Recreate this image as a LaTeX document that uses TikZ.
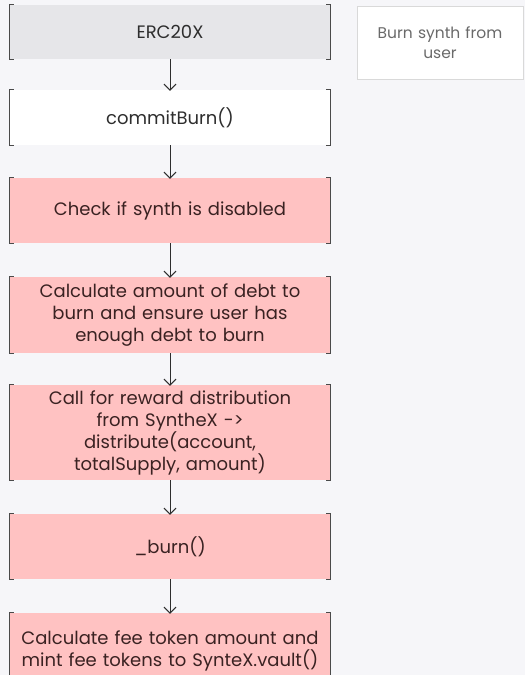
\documentclass[tikz,border=0pt]{standalone}
\usepackage{fontspec}
\setmainfont{Poppins}
\usetikzlibrary{arrows.meta}
\definecolor{bg}{HTML}{F6F6F9}
\definecolor{greyfill}{HTML}{E6E6E9}
\definecolor{pinkfill}{HTML}{FFC2C2}
\definecolor{edge}{HTML}{4A4A4A}
\definecolor{inkdark}{HTML}{2E2E2E}
\definecolor{inkred}{HTML}{3A2222}
\definecolor{notegrey}{HTML}{6A6A6A}
\begin{document}
\begin{tikzpicture}[x=1pt,y=-1pt,
  stepbox/.style={minimum width=320pt, text width=316pt, align=center,
    inner sep=0pt, font=\fontsize{18}{22}\selectfont},
  greybox/.style={stepbox, fill=greyfill, text=inkdark},
  whitebox/.style={stepbox, fill=white, text=inkdark},
  pinkbox/.style={stepbox, fill=pinkfill, text=inkred},
  bracket/.style={draw=edge, line width=1.2pt},
  flow/.style={draw=inkdark, line width=1pt, -{Straight Barb[length=6pt,width=12pt]}},
  notebox/.style={draw=black!15, fill=white, line width=0.8pt, minimum width=166pt,
    minimum height=73pt, text width=160pt, align=center, inner sep=0pt,
    text=notegrey, font=\fontsize{15.5}{20}\selectfont}
]
\useasboundingbox (0,0) rectangle (525,675);
\clip (0,0) rectangle (525,675);
\fill[bg] (0,0) rectangle (525,675);

% flow steps
\node[greybox,  minimum height=54pt] (erc)  at (170,32)    {ERC20X};
\node[whitebox, minimum height=55pt] (cb)   at (170,117.5) {commitBurn()};
\node[pinkbox,  minimum height=65pt] (chk)  at (170,210.5) {Check if synth is disabled};
\node[pinkbox,  minimum height=76pt] (debt) at (170,315)   {Calculate amount of debt to\\burn and ensure user has\\enough debt to burn};
\node[pinkbox,  minimum height=95pt] (rew)  at (170,432.5) {Call for reward distribution\\from SyntheX ->\\distribute(account,\\totalSupply, amount)};
\node[pinkbox,  minimum height=65pt] (brn)  at (170,546.5) {\_burn()};
\node[pinkbox,  minimum height=76pt] (fee)  at (170,651)   {Calculate fee token amount and\\mint fee tokens to SynteX.vault()};

% side note
\node[notebox] (note) at (440,42.5) {Burn synth from\\user};

% bracket edges on the left and right of every step
\foreach \b in {erc,cb,chk,debt,rew,brn,fee}{
  \draw[bracket] ([xshift=4pt]\b.north west) -- (\b.north west) -- (\b.south west) -- ([xshift=4pt]\b.south west);
  \draw[bracket] ([xshift=-4pt]\b.north east) -- (\b.north east) -- (\b.south east) -- ([xshift=-4pt]\b.south east);
}

% connectors
\draw[flow] (erc.south) -- ([yshift=-1pt]cb.north);
\draw[flow] (cb.south) -- ([yshift=-1pt]chk.north);
\draw[flow] (chk.south) -- ([yshift=-1pt]debt.north);
\draw[flow] (debt.south) -- ([yshift=-1pt]rew.north);
\draw[flow] (rew.south) -- ([yshift=-1pt]brn.north);
\draw[flow] (brn.south) -- ([yshift=-1pt]fee.north);
\end{tikzpicture}
\end{document}
